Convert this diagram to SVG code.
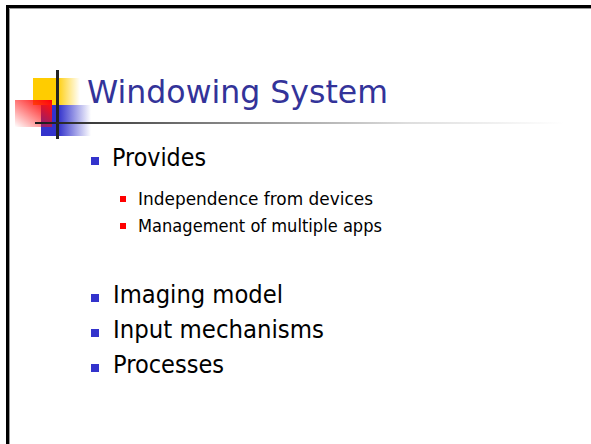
<svg xmlns="http://www.w3.org/2000/svg" width="591" height="444" viewBox="0 0 591 444">
  <defs>
    <linearGradient id="gYellow" x1="0" y1="0" x2="1" y2="0">
      <stop offset="0" stop-color="#FFCC00"/>
      <stop offset="0.5" stop-color="#FFCC00"/>
      <stop offset="1" stop-color="#FFCC00" stop-opacity="0"/>
    </linearGradient>
    <linearGradient id="gBlue" x1="0" y1="0" x2="1" y2="0">
      <stop offset="0" stop-color="#3333CC"/>
      <stop offset="0.35" stop-color="#3333CC"/>
      <stop offset="1" stop-color="#3333CC" stop-opacity="0"/>
    </linearGradient>
    <linearGradient id="gRed" x1="1" y1="0" x2="0" y2="1">
      <stop offset="0" stop-color="#FF0000"/>
      <stop offset="0.1" stop-color="#FF1010"/>
      <stop offset="1" stop-color="#FF0000" stop-opacity="0"/>
    </linearGradient>
    <linearGradient id="gLine" gradientUnits="userSpaceOnUse" x1="35" y1="0" x2="565" y2="0">
      <stop offset="0" stop-color="#1a1a1a"/>
      <stop offset="0.3" stop-color="#777777"/>
      <stop offset="0.7" stop-color="#dddddd"/>
      <stop offset="1" stop-color="#ffffff"/>
    </linearGradient>
    <style>
      .title { font-family: "DejaVu Sans", "Liberation Sans", sans-serif; font-size: 32px; fill: #333399; }
      .l1 { font-family: "DejaVu Sans", "Liberation Sans", sans-serif; font-size: 24px; fill: #000000; }
      .l2 { font-family: "DejaVu Sans", "Liberation Sans", sans-serif; font-size: 18px; fill: #000000; }
      .b1 { fill: #3333CC; }
      .b2 { fill: #FF0000; }
    </style>
  </defs>

  <rect x="0" y="0" width="591" height="444" fill="#ffffff"/>

  <g id="frame">
    <path d="M7.5 444 V6.5 H591" fill="none" stroke="#000000" stroke-width="3"/>
    <path d="M9.5 444 V8.5 H591" fill="none" stroke="#999999" stroke-width="1"/>
  </g>

  <g id="logo">
    <rect x="33" y="78" width="47" height="27" fill="url(#gYellow)"/>
    <rect x="41" y="105" width="50" height="31" fill="url(#gBlue)"/>
    <rect x="15" y="100" width="37" height="27" fill="url(#gRed)"/>
    <rect x="56" y="70" width="3" height="69" fill="#222222"/>
    <rect x="35" y="122" width="530" height="2" fill="url(#gLine)"/>
  </g>

  <g id="title">
    <text class="title" x="87" y="103" textLength="301" lengthAdjust="spacingAndGlyphs">Windowing System</text>
  </g>

  <g id="bullet-provides">
    <rect class="b1" x="91" y="157" width="8" height="8"/>
    <text class="l1" x="112" y="166" textLength="94" lengthAdjust="spacingAndGlyphs">Provides</text>
  </g>
  <g id="sub-independence">
    <rect class="b2" x="120" y="196" width="6" height="6"/>
    <text class="l2" x="138" y="205" textLength="235" lengthAdjust="spacingAndGlyphs">Independence from devices</text>
  </g>
  <g id="sub-management">
    <rect class="b2" x="120" y="223" width="6" height="6"/>
    <text class="l2" x="138" y="232" textLength="244" lengthAdjust="spacingAndGlyphs">Management of multiple apps</text>
  </g>
  <g id="bullet-imaging">
    <rect class="b1" x="91" y="294" width="8" height="8"/>
    <text class="l1" x="113" y="303" textLength="170" lengthAdjust="spacingAndGlyphs">Imaging model</text>
  </g>
  <g id="bullet-input">
    <rect class="b1" x="91" y="329" width="8" height="8"/>
    <text class="l1" x="113" y="338" textLength="211" lengthAdjust="spacingAndGlyphs">Input mechanisms</text>
  </g>
  <g id="bullet-processes">
    <rect class="b1" x="91" y="364" width="8" height="8"/>
    <text class="l1" x="113" y="373" textLength="111" lengthAdjust="spacingAndGlyphs">Processes</text>
  </g>
</svg>
